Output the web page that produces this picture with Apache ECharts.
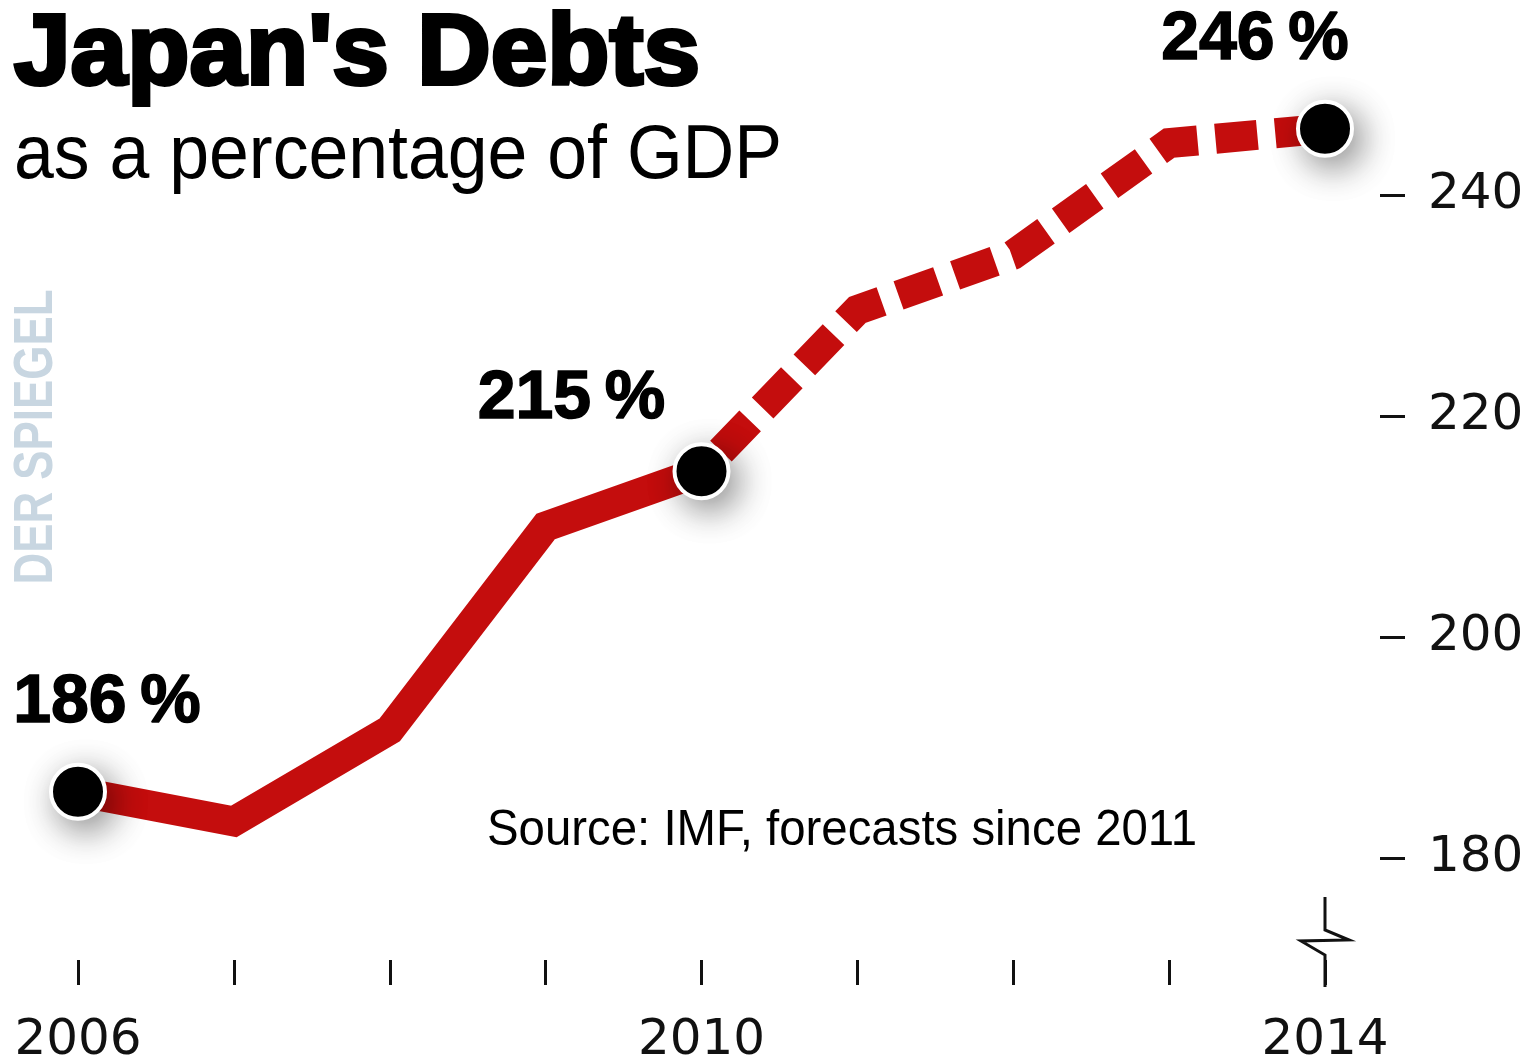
<!DOCTYPE html>
<html>
<head>
<meta charset="utf-8">
<title>Japan's Debts</title>
<script src="https://cdn.jsdelivr.net/npm/echarts@6/dist/echarts.min.js"></script>
<style>
  html, body { margin: 0; padding: 0; background: #ffffff; }
  #chart { width: 1536px; height: 1064px; }
</style>
</head>
<body>
<div id="chart"></div>
<script>
// Gross government debt of Japan, % of GDP (IMF; values from 2011 on are forecasts)
const years = [2006, 2007, 2008, 2009, 2010, 2011, 2012, 2013, 2014];
const debtPct = [186, 183.3, 191.6, 210, 215, 229.6, 234.6, 244.7, 246];
const lastActualYear = 2010;          // solid up to here, dashed afterwards
const highlightYears = [2006, 2010, 2014];
const yTickValues = [180, 200, 220, 240];
const xLabelYears = [2006, 2010, 2014];

const RED = '#c40d0d';
const INK = '#111111';

const pairs = years.map((y, i) => [y, debtPct[i]]);
const actual = pairs.filter(p => p[0] <= lastActualYear);
const forecast = pairs.filter(p => p[0] >= lastActualYear);
const highlights = pairs.filter(p => highlightYears.includes(p[0]));

// label placement relative to each highlighted dot
const labelOffsets = { 2006: [29, -88], 2010: [-130, -72], 2014: [-70, -88] };

// measure text so a graphic text can be squeezed to a given width
const measureCtx = document.createElement('canvas').getContext('2d');
function fitScale(text, font, targetWidth) {
  measureCtx.font = font;
  return targetWidth / measureCtx.measureText(text).width;
}

const chart = echarts.init(document.getElementById('chart'), null, { renderer: 'canvas' });

const titleFont = 'bold 100px "Liberation Sans"';
const subFont = '76px "Liberation Sans"';
const srcFont = '50px "Liberation Sans"';
const markFont = 'bold 56px "Liberation Sans"';

function textEl(text, font, size, weight, x, y, width, color, extraStyle) {
  const sx = fitScale(text, font, width);
  return {
    type: 'text',
    x: x, y: y,
    scaleX: sx,
    originX: 0, originY: 0,
    style: Object.assign({
      text: text,
      fontFamily: 'Liberation Sans',
      fontSize: size,
      fontWeight: weight,
      fill: color,
      align: 'left',
      verticalAlign: 'middle'
    }, extraStyle || {}),
    silent: true
  };
}

const option = {
  backgroundColor: '#ffffff',
  animation: false,
  grid: {
    left: 78,
    right: 211,
    top: -26,
    bottom: -15,
    containLabel: false,
    outerBoundsMode: 'none'
  },
  xAxis: {
    type: 'value',
    min: 2006,
    max: 2014,
    interval: 1,
    offset: -119,
    axisLine: { show: false },
    axisTick: { show: true, length: 25, lineStyle: { color: INK, width: 3 } },
    splitLine: { show: false },
    axisLabel: {
      margin: 56,
      fontFamily: 'DejaVu Sans',
      fontSize: 50,
      color: INK,
      formatter: v => xLabelYears.includes(v) ? String(v) : ''
    }
  },
  yAxis: {
    type: 'value',
    position: 'right',
    min: 160,
    max: 260,
    interval: 20,
    offset: 55,
    axisLine: { show: false },
    axisTick: { show: true, inside: false, length: 25, lineStyle: { color: INK, width: 3 } },
    splitLine: { show: false },
    axisLabel: {
      margin: 48,
      fontFamily: 'DejaVu Sans',
      fontSize: 50,
      color: INK,
      formatter: v => yTickValues.includes(v) ? String(v) : ''
    }
  },
  series: [
    {
      name: 'actual',
      type: 'line',
      data: actual,
      showSymbol: false,
      smooth: false,
      lineStyle: { color: RED, width: 30, cap: 'butt', join: 'miter', opacity: 1 },
      z: 2
    },
    {
      name: 'forecast',
      type: 'line',
      data: forecast,
      showSymbol: false,
      smooth: false,
      lineStyle: { color: RED, width: 30, type: [42, 18], dashOffset: -28, cap: 'butt', join: 'miter', opacity: 1 },
      z: 2
    },
    {
      name: 'points',
      type: 'scatter',
      data: highlights.map(p => ({
        value: p,
        label: { offset: labelOffsets[p[0]] }
      })),
      symbol: 'circle',
      symbolSize: 54,
      itemStyle: {
        color: '#000000',
        opacity: 1,
        borderColor: '#ffffff',
        borderWidth: 4,
        shadowBlur: 34,
        shadowColor: 'rgba(0,0,0,0.45)',
        shadowOffsetX: 8,
        shadowOffsetY: 10
      },
      label: {
        show: true,
        position: 'inside',
        formatter: p => Math.round(p.value[1]) + '\u2009%',
        fontFamily: 'Liberation Sans',
        fontWeight: 'bold',
        fontSize: 68,
        color: '#000000',
        opacity: 1,
        textBorderColor: '#000000',
        textBorderWidth: 1.5
      },
      emphasis: { disabled: true },
      z: 5
    }
  ],
  graphic: [
    textEl("Japan's Debts", titleFont, 100, 'bold', 14, 56, 686, '#000000',
      { stroke: '#000000', lineWidth: 4 }),
    textEl('as a percentage of GDP', subFont, 76, 'normal', 14, 157, 768, '#000000'),
    textEl('Source: IMF, forecasts since 2011', srcFont, 50, 'normal', 487, 831, 710, '#000000'),
    {
      type: 'text',
      x: 37, y: 437,
      rotation: Math.PI / 2,
      scaleX: fitScale('DER SPIEGEL', markFont, 295),
      style: {
        text: 'DER SPIEGEL',
        fontFamily: 'Liberation Sans',
        fontSize: 56,
        fontWeight: 'bold',
        fill: '#c8d6e1',
        align: 'center',
        verticalAlign: 'middle'
      },
      silent: true
    }
  ]
};

chart.setOption(option);

// axis break mark drawn over the last year's tick
const bx = chart.convertToPixel({ gridIndex: 0 }, [2014, 180])[0];
const by = chart.convertToPixel({ gridIndex: 0 }, [2014, 160])[1] - 119; // x axis line
chart.setOption({
  graphic: option.graphic.concat([{
    type: 'polyline',
    shape: {
      points: [
        [bx, by - 63], [bx, by - 30], [bx + 24, by - 20],
        [bx - 24, by - 19], [bx, by - 5], [bx, by + 27]
      ]
    },
    style: { stroke: INK, lineWidth: 3, fill: null, lineJoin: 'miter' },
    silent: true
  }])
});
</script>
</body>
</html>
